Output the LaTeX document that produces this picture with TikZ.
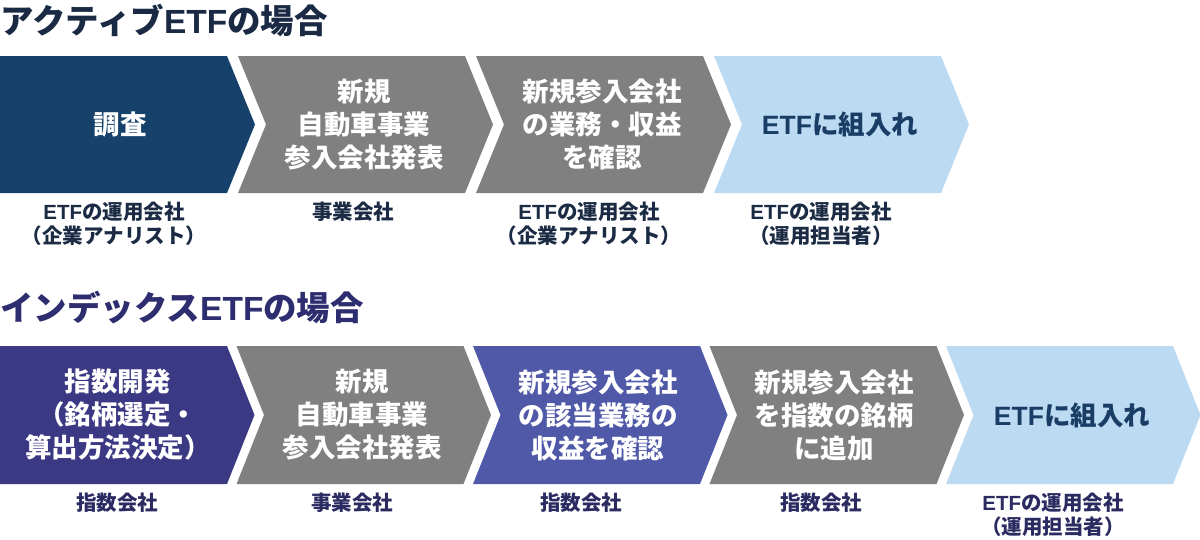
\documentclass[tikz,border=0pt]{standalone}
\usepackage{fontspec}
\setmainfont{Noto Sans CJK JP}
\newfontfamily\latfont{Liberation Sans}
\newcommand{\ETF}{{\latfont\bfseries ETF}}
\definecolor{navybox}{HTML}{16416B}
\definecolor{graybox}{HTML}{808080}
\definecolor{lightbox}{HTML}{BDDAF3}
\definecolor{lighttext}{HTML}{1A3D66}
\definecolor{indigoA}{HTML}{3B3884}
\definecolor{indigoB}{HTML}{4F59A8}
\definecolor{titleA}{HTML}{1A2A44}
\definecolor{labelA}{HTML}{1B2B44}
\definecolor{titleB}{HTML}{2D2D70}
\definecolor{labelB}{HTML}{2B2B62}
\newcommand{\chevfirst}[5]{% left, top, bottom, color, depth
  \fill[#4] (#1,#2) -- ({#1+227},#2) -- ({#1+227+#5},{(#2+#3)/2}) -- ({#1+227},#3) -- (#1,#3) -- cycle;}
\newcommand{\chevnext}[5]{%
  \fill[#4] (#1,#2) -- ({#1+227},#2) -- ({#1+227+#5},{(#2+#3)/2}) -- ({#1+227},#3) -- (#1,#3) -- ({#1+#5},{(#2+#3)/2}) -- cycle;}
\tikzset{
  boxtext/.style={align=center, inner sep=0pt, font=\fontsize{26.5}{33}\selectfont\bfseries, text=white},
  labtext/.style={align=center, inner sep=0pt, anchor=north, font=\fontsize{20.5}{24}\selectfont\bfseries},
  titletext/.style={inner sep=0pt, anchor=base west, font=\fontsize{33.5}{36}\selectfont\bfseries},
}
\begin{document}
\begin{tikzpicture}[x=1pt,y=-1pt]
\useasboundingbox (0,0) rectangle (1200,539);
% titles
\node[titletext, text=titleA] (titleA) at (0,33.5) {アクティブ\ETF の場合};
\node[titletext, text=titleB] (titleB) at (0,320.5) {インデックス\ETF の場合};
% top row
\chevfirst{0}{56}{193}{navybox}{28}
\chevnext{238}{56}{193}{graybox}{28}
\chevnext{476}{56}{193}{graybox}{28}
\chevnext{714}{56}{193}{lightbox}{28}
\node[boxtext] (a1) at (120,124.5) {調査};
\node[boxtext] (a2) at (364,124.5) {新規\\自動車事業\\参入会社発表};
\node[boxtext] (a3) at (602,124.5) {新規参入会社\\の業務・収益\\を確認};
\node[boxtext, text=lighttext] (a4) at (840,124.5) {\ETF に組入れ};
\node[labtext, text=labelA] (la1) at (114,202) {\ETF の運用会社\\（企業アナリスト）};
\node[labtext, text=labelA] (la2) at (353,202) {事業会社};
\node[labtext, text=labelA] (la3) at (589,202) {\ETF の運用会社\\（企業アナリスト）};
\node[labtext, text=labelA] (la4) at (821,202) {\ETF の運用会社\\（運用担当者）};
% bottom row
\chevfirst{0}{346}{484}{indigoA}{27.5}
\chevnext{236.5}{346}{484}{graybox}{27.5}
\chevnext{473}{346}{484}{indigoB}{27.5}
\chevnext{709.5}{346}{484}{graybox}{27.5}
\chevnext{946}{346}{484}{lightbox}{27.5}
\node[boxtext] (b1) at (118,415) {指数開発\\（銘柄選定・\\算出方法決定）};
\node[boxtext] (b2) at (362,415) {新規\\自動車事業\\参入会社発表};
\node[boxtext] (b3) at (598,415) {新規参入会社\\の該当業務の\\収益を確認};
\node[boxtext] (b4) at (834,415) {新規参入会社\\を指数の銘柄\\に追加};
\node[boxtext, text=lighttext] (b5) at (1072,415) {\ETF に組入れ};
\node[labtext, text=labelB] (lb1) at (117,492.5) {指数会社};
\node[labtext, text=labelB] (lb2) at (352,492.5) {事業会社};
\node[labtext, text=labelB] (lb3) at (581,492.5) {指数会社};
\node[labtext, text=labelB] (lb4) at (821,492.5) {指数会社};
\node[labtext, text=labelB] (lb5) at (1053,492.5) {\ETF の運用会社\\（運用担当者）};
\end{tikzpicture}
\end{document}
